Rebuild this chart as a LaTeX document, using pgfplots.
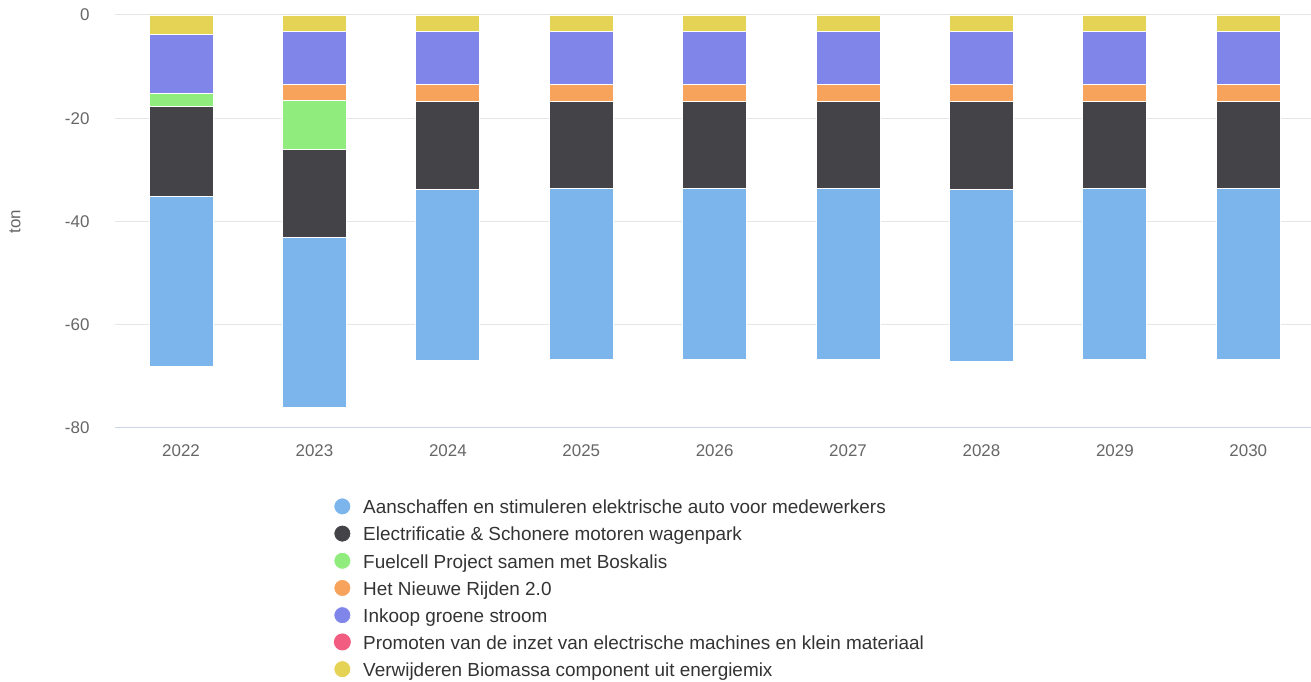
\documentclass[border=0pt]{standalone}
\usepackage{pgfplots}
\pgfplotsset{compat=1.18}
\usepackage{fontspec}
\setmainfont{Liberation Sans}
\usetikzlibrary{calc}

\definecolor{hcblue}{HTML}{7CB5EC}
\definecolor{hcdark}{HTML}{434348}
\definecolor{hcgreen}{HTML}{90ED7D}
\definecolor{hcorange}{HTML}{F7A35C}
\definecolor{hcpurple}{HTML}{8085E9}
\definecolor{hcpink}{HTML}{F15C80}
\definecolor{hcyellow}{HTML}{E4D354}
\definecolor{gridgray}{HTML}{E6E6E6}
\definecolor{axisline}{HTML}{CCD6EB}
\definecolor{ticktext}{HTML}{666666}
\definecolor{legtext}{HTML}{333333}

\begin{document}
\begin{tikzpicture}
\begin{axis}[
name=ax,
scale only axis,
width=1196bp,
height=413bp,
ybar stacked,
bar width=64bp,
xmin=-0.495, xmax=8.47,
ymin=-80, ymax=0,
xtick={0,...,8},
xticklabels={2022,2023,2024,2025,2026,2027,2028,2029,2030},
ytick={-80,-60,-40,-20,0},
yticklabels={-80,-60,-40,-20,0},
axis x line*=bottom,
axis y line*=left,
x axis line style={draw=axisline, line width=1bp, -},
y axis line style={draw=none},
major tick length=0pt,
ymajorgrids,
grid style={gridgray, line width=1bp},
tick label style={font=\fontsize{17}{20}\selectfont, text=ticktext},
yticklabel style={anchor=east, xshift=-22bp},
xticklabel style={yshift=-13bp},
ylabel={ton},
every axis y label/.style={at={(rel axis cs:-0.0836,0.5)}, rotate=90, anchor=center,
  font=\fontsize{17}{20}\selectfont, text=ticktext},
reverse legend,
legend style={at={(rel axis cs:0.18,-0.163)}, anchor=north west, draw=none, fill=none,
  font=\fontsize{19}{22}\selectfont, text=legtext, row sep=7.5bp, column sep=10bp,
  cells={anchor=west}},
legend image code/.code={\fill (0.25em,0.12em) circle (8.5bp);},
every axis plot/.append style={draw=white, line width=0.8bp},
]
\addplot[fill=hcyellow] coordinates {(0,-3.7) (1,-3.1) (2,-3.1) (3,-3.1) (4,-3.1) (5,-3.1) (6,-3.1) (7,-3.1) (8,-3.1)};
\addlegendentry{Verwijderen Biomassa component uit energiemix}
\addplot[fill=hcpink, draw=none] coordinates {(0,0) (1,0) (2,0) (3,0) (4,0) (5,0) (6,0) (7,0) (8,0)};
\addlegendentry{Promoten van de inzet van electrische machines en klein materiaal}
\addplot[fill=hcpurple] coordinates {(0,-11.4) (1,-10.3) (2,-10.3) (3,-10.3) (4,-10.3) (5,-10.3) (6,-10.3) (7,-10.3) (8,-10.3)};
\addlegendentry{Inkoop groene stroom}
\addplot[fill=hcorange] coordinates {(0,0) (1,-3.1) (2,-3.3) (3,-3.3) (4,-3.3) (5,-3.3) (6,-3.3) (7,-3.3) (8,-3.3)};
\addlegendentry{Het Nieuwe Rijden 2.0}
\addplot[fill=hcgreen] coordinates {(0,-2.7) (1,-9.5) (2,0) (3,0) (4,0) (5,0) (6,0) (7,0) (8,0)};
\addlegendentry{Fuelcell Project samen met Boskalis}
\addplot[fill=hcdark] coordinates {(0,-17.3) (1,-17.0) (2,-17.0) (3,-16.8) (4,-16.8) (5,-16.8) (6,-17.0) (7,-16.8) (8,-16.8)};
\addlegendentry{Electrificatie \& Schonere motoren wagenpark}
\addplot[fill=hcblue] coordinates {(0,-32.9) (1,-33.1) (2,-33.3) (3,-33.2) (4,-33.2) (5,-33.2) (6,-33.4) (7,-33.2) (8,-33.2)};
\addlegendentry{Aanschaffen en stimuleren elektrische auto voor medewerkers}
\end{axis}
\pgfresetboundingbox
\path[use as bounding box] ($(ax.south west)+(-115bp,-254bp)$) rectangle ($(ax.north east)+(0bp,15bp)$);
\end{tikzpicture}
\end{document}
